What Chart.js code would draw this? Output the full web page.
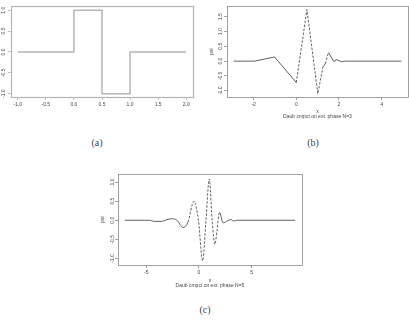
<!DOCTYPE html>
<html>
<head>
<meta charset="utf-8">
<script src="https://cdn.jsdelivr.net/npm/chart.js@4.4.1/dist/chart.umd.min.js"></script>
<style>
  body { margin: 0; width: 409px; height: 328px; background: #fff; position: relative; overflow: hidden; }
  canvas { position: absolute; }
  .cap { position: absolute; font-family: "Liberation Serif", "DejaVu Serif", serif; font-size: 10px; font-weight: normal; color: #444; transform: translateX(-50%); }
</style>
</head>
<body>
<canvas id="haar" width="200" height="115" style="left:0px;top:0px"></canvas>
<canvas id="daub3" width="204" height="125" style="left:205px;top:0px"></canvas>
<canvas id="daub5" width="214" height="130" style="left:96px;top:165px"></canvas>
<div class="cap" style="left:97px;top:137px">(a)</div>
<div class="cap" style="left:313px;top:137px">(b)</div>
<div class="cap" style="left:205px;top:304px">(c)</div>
<script>
// (a) Haar wavelet
const haarX = [-1, 0, 0, 0.5, 0.5, 1, 1, 2];
const haarY = [0, 0, 1, 1, -1, -1, 0, 0];
const haarXTicks = [-1, -0.5, 0, 0.5, 1, 1.5, 2];
const haarYTicks = [-1, -0.5, 0, 0.5, 1];

// (b) Daubechies extremal phase N=3
const d3X = [-2.94, -1.95, -1.02, 0.0, 0.50, 1.01, 1.25, 1.36, 1.51, 1.76, 1.90, 2.11, 2.26, 4.93];
const d3Y = [0, 0, 0.14, -0.72, 1.74, -1.10, -0.20, -0.09, 0.29, -0.01, 0.05, -0.02, 0, 0];
const d3XTicks = [-2, 0, 2, 4];
const d3YTicks = [-1, -0.5, 0, 0.5, 1, 1.5];

// (c) Daubechies extremal phase N=5
const d5X = [-7.05, -4.67, -4.3, -3.6, -3.1, -2.6, -2.1, -1.5, -1.05, -0.48, -0.05, 0.35, 0.67, 0.98, 1.25, 1.52, 1.72, 1.95, 2.3, 2.75, 3.05, 3.3, 3.6, 9.14];
const d5Y = [0, 0, -0.03, -0.03, 0.01, 0.04, 0, -0.19, -0.05, 0.5, 0, -1.06, 0, 1.08, 0, -0.63, -0.25, 0.21, -0.07, -0.01, 0.02, -0.02, 0, 0];
const d5XTicks = [-5, 0, 5];
const d5YTicks = [-1, -0.5, 0, 0.5, 1];

const tickFont = { family: "Liberation Sans", size: 5, lineHeight: 1 };

// draws the R style box round the plot region
const boxPlugin = {
  id: 'box',
  afterDraw(chart, args, o) {
    const a = chart.chartArea, ctx = chart.ctx;
    ctx.save();
    ctx.strokeStyle = o.color;
    ctx.lineWidth = o.width;
    ctx.strokeRect(a.left + 0.5, a.top + 0.5, a.right - a.left, a.bottom - a.top);
    ctx.restore();
  }
};

function makeChart(id, xs, ys, c) {
  const pts = xs.map((x, i) => ({ x: x, y: ys[i] }));
  return new Chart(document.getElementById(id), {
    type: 'line',
    data: { datasets: [{
      data: pts,
      borderColor: c.lineColor,
      borderWidth: c.lineWidth,
      pointRadius: 0,
      fill: false,
      cubicInterpolationMode: c.smooth ? 'monotone' : 'default',
      tension: 0,
      segment: {
        // steep strokes come out broken in the reference
        borderDash: s => c.dashSteep && Math.abs(s.p1.y - s.p0.y) > 3 * Math.abs(s.p1.x - s.p0.x) ? [2.5, 1.5] : undefined
      }
    }] },
    options: {
      responsive: false,
      animation: false,
      events: [],
      layout: { padding: c.padding },
      plugins: { legend: { display: false }, tooltip: { enabled: false }, box: { color: c.boxColor, width: c.boxWidth } },
      scales: {
        x: {
          type: 'linear', min: c.xMin, max: c.xMax,
          afterBuildTicks: s => { s.ticks = c.xTicks.map(v => ({ value: v })); },
          afterFit: s => { s.height = c.xHeight; s.paddingLeft = 0; s.paddingRight = 0; },
          ticks: { font: tickFont, color: '#444', padding: 2, maxRotation: 0, autoSkip: false,
                   callback: v => v.toFixed(c.xDigits) },
          grid: { drawOnChartArea: false, tickLength: 3, color: c.boxColor, lineWidth: 0.8 },
          border: { display: false },
          title: { display: !!c.xTitle, text: c.xTitle, font: tickFont, color: '#444', padding: { top: 0, bottom: c.xTitlePad } }
        },
        y: {
          type: 'linear', min: c.yMin, max: c.yMax,
          afterBuildTicks: s => { s.ticks = c.yTicks.map(v => ({ value: v })); },
          afterFit: s => { s.width = c.yWidth; s.paddingTop = 0; s.paddingBottom = 0; },
          ticks: { font: tickFont, color: '#444', padding: c.yTickPad, minRotation: 90, maxRotation: 90,
                   crossAlign: 'center', autoSkip: false, callback: v => v.toFixed(1) },
          grid: { drawOnChartArea: false, tickLength: 3, color: c.boxColor, lineWidth: 0.8 },
          border: { display: false },
          title: { display: !!c.yTitle, text: c.yTitle, font: tickFont, color: '#444', padding: { top: 4, bottom: 0 } }
        }
      }
    },
    plugins: [boxPlugin]
  });
}

makeChart('haar', haarX, haarY, {
  xMin: -1.12, xMax: 2.12, yMin: -1.08, yMax: 1.1,
  xTicks: haarXTicks, yTicks: haarYTicks, xDigits: 1,
  padding: { left: 0, top: 6, right: 7, bottom: 0 },
  yWidth: 11, xHeight: 18, yTickPad: 0.5,
  lineColor: '#b5b5b5', lineWidth: 1.5, boxColor: '#b5b5b5', boxWidth: 1.2,
  dashSteep: false, smooth: false
});

makeChart('daub3', d3X, d3Y, {
  xMin: -3.25, xMax: 5.24, yMin: -1.21, yMax: 1.86,
  xTicks: d3XTicks, yTicks: d3YTicks, xDigits: 0,
  padding: { left: 0, top: 6, right: 1, bottom: 0 },
  yWidth: 22, xHeight: 28, yTickPad: -1,
  xTitle: ['x', 'Daub cmpct on ext. phase N=3'], xTitlePad: 5.5, yTitle: 'psi',
  lineColor: '#3a3a3a', lineWidth: 0.8, boxColor: '#8a8a8a', boxWidth: 0.8,
  dashSteep: true, smooth: false
});

makeChart('daub5', d5X, d5Y, {
  xMin: -7.7, xMax: 9.8, yMin: -1.17, yMax: 1.21,
  xTicks: d5XTicks, yTicks: d5YTicks, xDigits: 0,
  padding: { left: 0, top: 9, right: 8, bottom: 0 },
  yWidth: 22, xHeight: 30, yTickPad: -1.8,
  xTitle: ['x', 'Daub cmpct on ext. phase N=5'], xTitlePad: 6.5, yTitle: 'psi',
  lineColor: '#3a3a3a', lineWidth: 0.8, boxColor: '#8a8a8a', boxWidth: 0.8,
  dashSteep: true, smooth: true
});
</script>
</body>
</html>
